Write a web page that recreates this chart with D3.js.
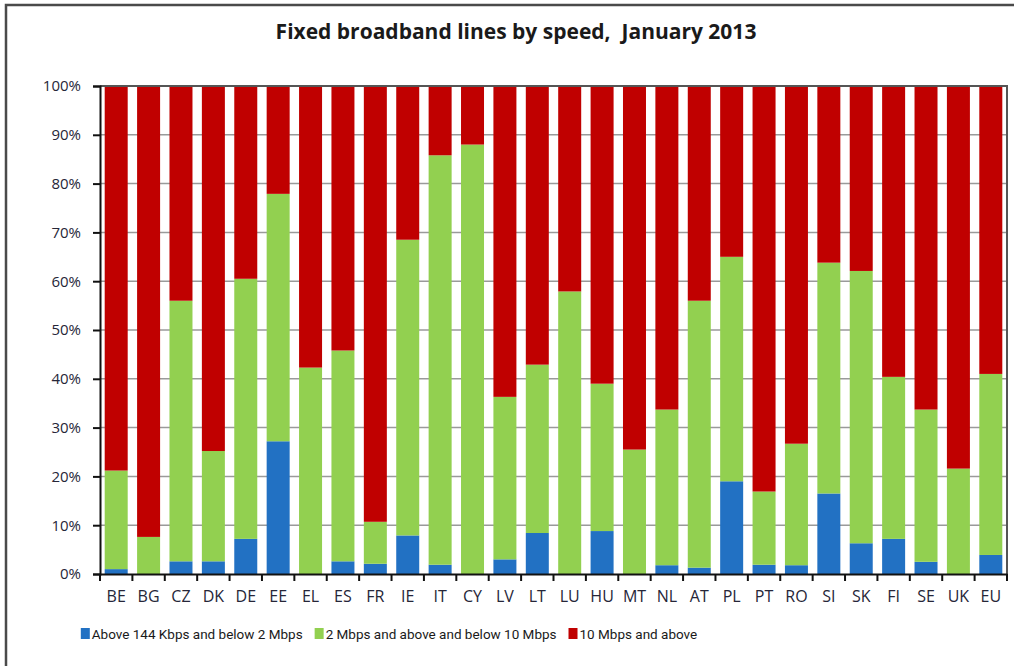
<!DOCTYPE html>
<html>
<head>
<meta charset="utf-8">
<script src="https://cdn.jsdelivr.net/npm/d3@7"></script>
<style>
  body { margin: 0; background: #fff; }
</style>
</head>
<body>
<div id="chart"></div>
<script>
// countries along the x axis
var countries = ["BE","BG","CZ","DK","DE","EE","EL","ES","FR","IE","IT","CY","LV","LT",
  "LU","HU","MT","NL","AT","PL","PT","RO","SI","SK","FI","SE","UK","EU"];

// share of lines (%) per speed band
var slow = [1.0,0,2.6,2.6,7.2,27.2,0,2.6,2.1,7.9,1.9,0,3.0,8.4,
  0,8.8,0,1.8,1.3,19.0,1.9,1.8,16.5,6.3,7.2,2.5,0,3.9];
var medium = [20.2,7.6,53.4,22.6,53.3,50.7,42.3,43.2,8.6,60.6,83.9,88.0,33.3,34.5,
  57.9,30.2,25.5,31.9,54.7,46.0,15.0,24.9,47.3,55.8,33.2,31.2,21.6,37.1];

var seriesNames = ["Above 144 Kbps and below 2 Mbps",
  "2 Mbps and above and below 10 Mbps", "10 Mbps and above"];
var seriesColors = ["#2271c3", "#92d050", "#c00000"];
var yTicks = [0,10,20,30,40,50,60,70,80,90,100];

var width = 1014, height = 666;
var plotLeft = 100, plotRight = 1007, plotTop = 86, plotBottom = 574;
var font = "'Open Sans', sans-serif";

var svg = d3.select("#chart").append("svg")
  .attr("width", width).attr("height", height);

// outer frame
svg.append("rect")
  .attr("x", 6).attr("y", 5).attr("width", 1020).attr("height", 680)
  .attr("fill", "none").attr("stroke", "#4a4a4a").attr("stroke-width", 2.5);

// title
svg.append("text")
  .attr("x", 516).attr("y", 39)
  .attr("text-anchor", "middle")
  .style("white-space", "pre")
  .style("font-family", font)
  .attr("font-size", 21).attr("font-weight", "bold").attr("fill", "#1a1a1a")
  .text("Fixed broadband lines by speed,  January 2013");

var rows = countries.map(function(c, i) {
  return { c: c, vals: [slow[i], medium[i], 100 - slow[i] - medium[i]] };
});

var xScale = d3.scaleBand().domain(countries).range([plotLeft, plotRight])
  .paddingInner(0.29).paddingOuter(0.145);
var yScale = d3.scaleLinear().domain([0, 100]).range([plotBottom, plotTop]);

// gridlines
svg.append("g").selectAll("line").data(yTicks.slice(1, -1)).enter()
  .append("line")
  .attr("x1", plotLeft).attr("x2", plotRight)
  .attr("y1", function(d) { return yScale(d); })
  .attr("y2", function(d) { return yScale(d); })
  .attr("stroke", "#9a9a9a").attr("stroke-width", 1.5);

// stacked bars
rows.forEach(function(r) {
  var base = 0;
  r.vals.forEach(function(v, k) {
    if (v > 0) {
      svg.append("rect")
        .attr("x", xScale(r.c))
        .attr("width", xScale.bandwidth())
        .attr("y", yScale(base + v))
        .attr("height", yScale(base) - yScale(base + v))
        .attr("fill", seriesColors[k]);
    }
    base += v;
  });
});

// top and right frame of plot area
svg.append("path")
  .attr("d", "M" + plotLeft + "," + plotTop + "H" + plotRight + "V" + plotBottom)
  .attr("fill", "none").attr("stroke", "#555").attr("stroke-width", 2);

// y axis
var yAxis = d3.axisLeft(yScale).tickValues(yTicks)
  .tickFormat(function(d) { return d + "%"; }).tickSize(7).tickPadding(12);
var yg = svg.append("g").attr("transform", "translate(" + plotLeft + ",0)").call(yAxis);
yg.select(".domain").attr("stroke", "#111").attr("stroke-width", 2);
yg.selectAll(".tick line").attr("stroke", "#111").attr("stroke-width", 2);
yg.selectAll("text").attr("font-size", 15).attr("fill", "#262638")
  .style("font-family", font);

// x axis
var xAxis = d3.axisBottom(xScale).tickSize(0).tickPadding(17);
var xg = svg.append("g").attr("transform", "translate(0," + plotBottom + ")").call(xAxis);
xg.select(".domain").attr("stroke", "#111").attr("stroke-width", 2);
xg.selectAll("text").attr("font-size", 16).attr("fill", "#262638")
  .style("font-family", font);

// boundary ticks between categories
var step = xScale.step();
svg.append("g").selectAll("line").data(countries).enter()
  .append("line")
  .attr("x1", function(d) { return xScale(d) - xScale.paddingInner() * step / 2; })
  .attr("x2", function(d) { return xScale(d) - xScale.paddingInner() * step / 2; })
  .attr("y1", plotBottom).attr("y2", plotBottom + 7)
  .attr("stroke", "#111").attr("stroke-width", 2);
svg.append("line")
  .attr("x1", plotRight).attr("x2", plotRight).attr("y1", plotBottom).attr("y2", plotBottom + 7)
  .attr("stroke", "#111").attr("stroke-width", 2);

// legend, laid out from measured label widths and centred like the original
var lg = svg.append("g").attr("transform", "translate(0,634)");
var items = lg.selectAll("g").data(seriesNames).enter().append("g");
items.append("rect").attr("x", 0).attr("y", -6).attr("width", 9).attr("height", 11)
  .attr("fill", function(d, i) { return seriesColors[i]; });
items.append("text").attr("x", 11).attr("y", 5)
  .style("font-family", "Roboto, sans-serif")
  .attr("font-size", 13.5).attr("fill", "#1a1a1a")
  .text(function(d) { return d; });
var xs = [], cur = 0;
items.each(function() {
  xs.push(cur);
  cur += 11 + d3.select(this).select("text").node().getComputedTextLength() + 12;
});
var total = cur - 12;
var startX = 389 - total / 2;
items.attr("transform", function(d, i) { return "translate(" + (startX + xs[i]) + ",0)"; });
</script>
</body>
</html>
